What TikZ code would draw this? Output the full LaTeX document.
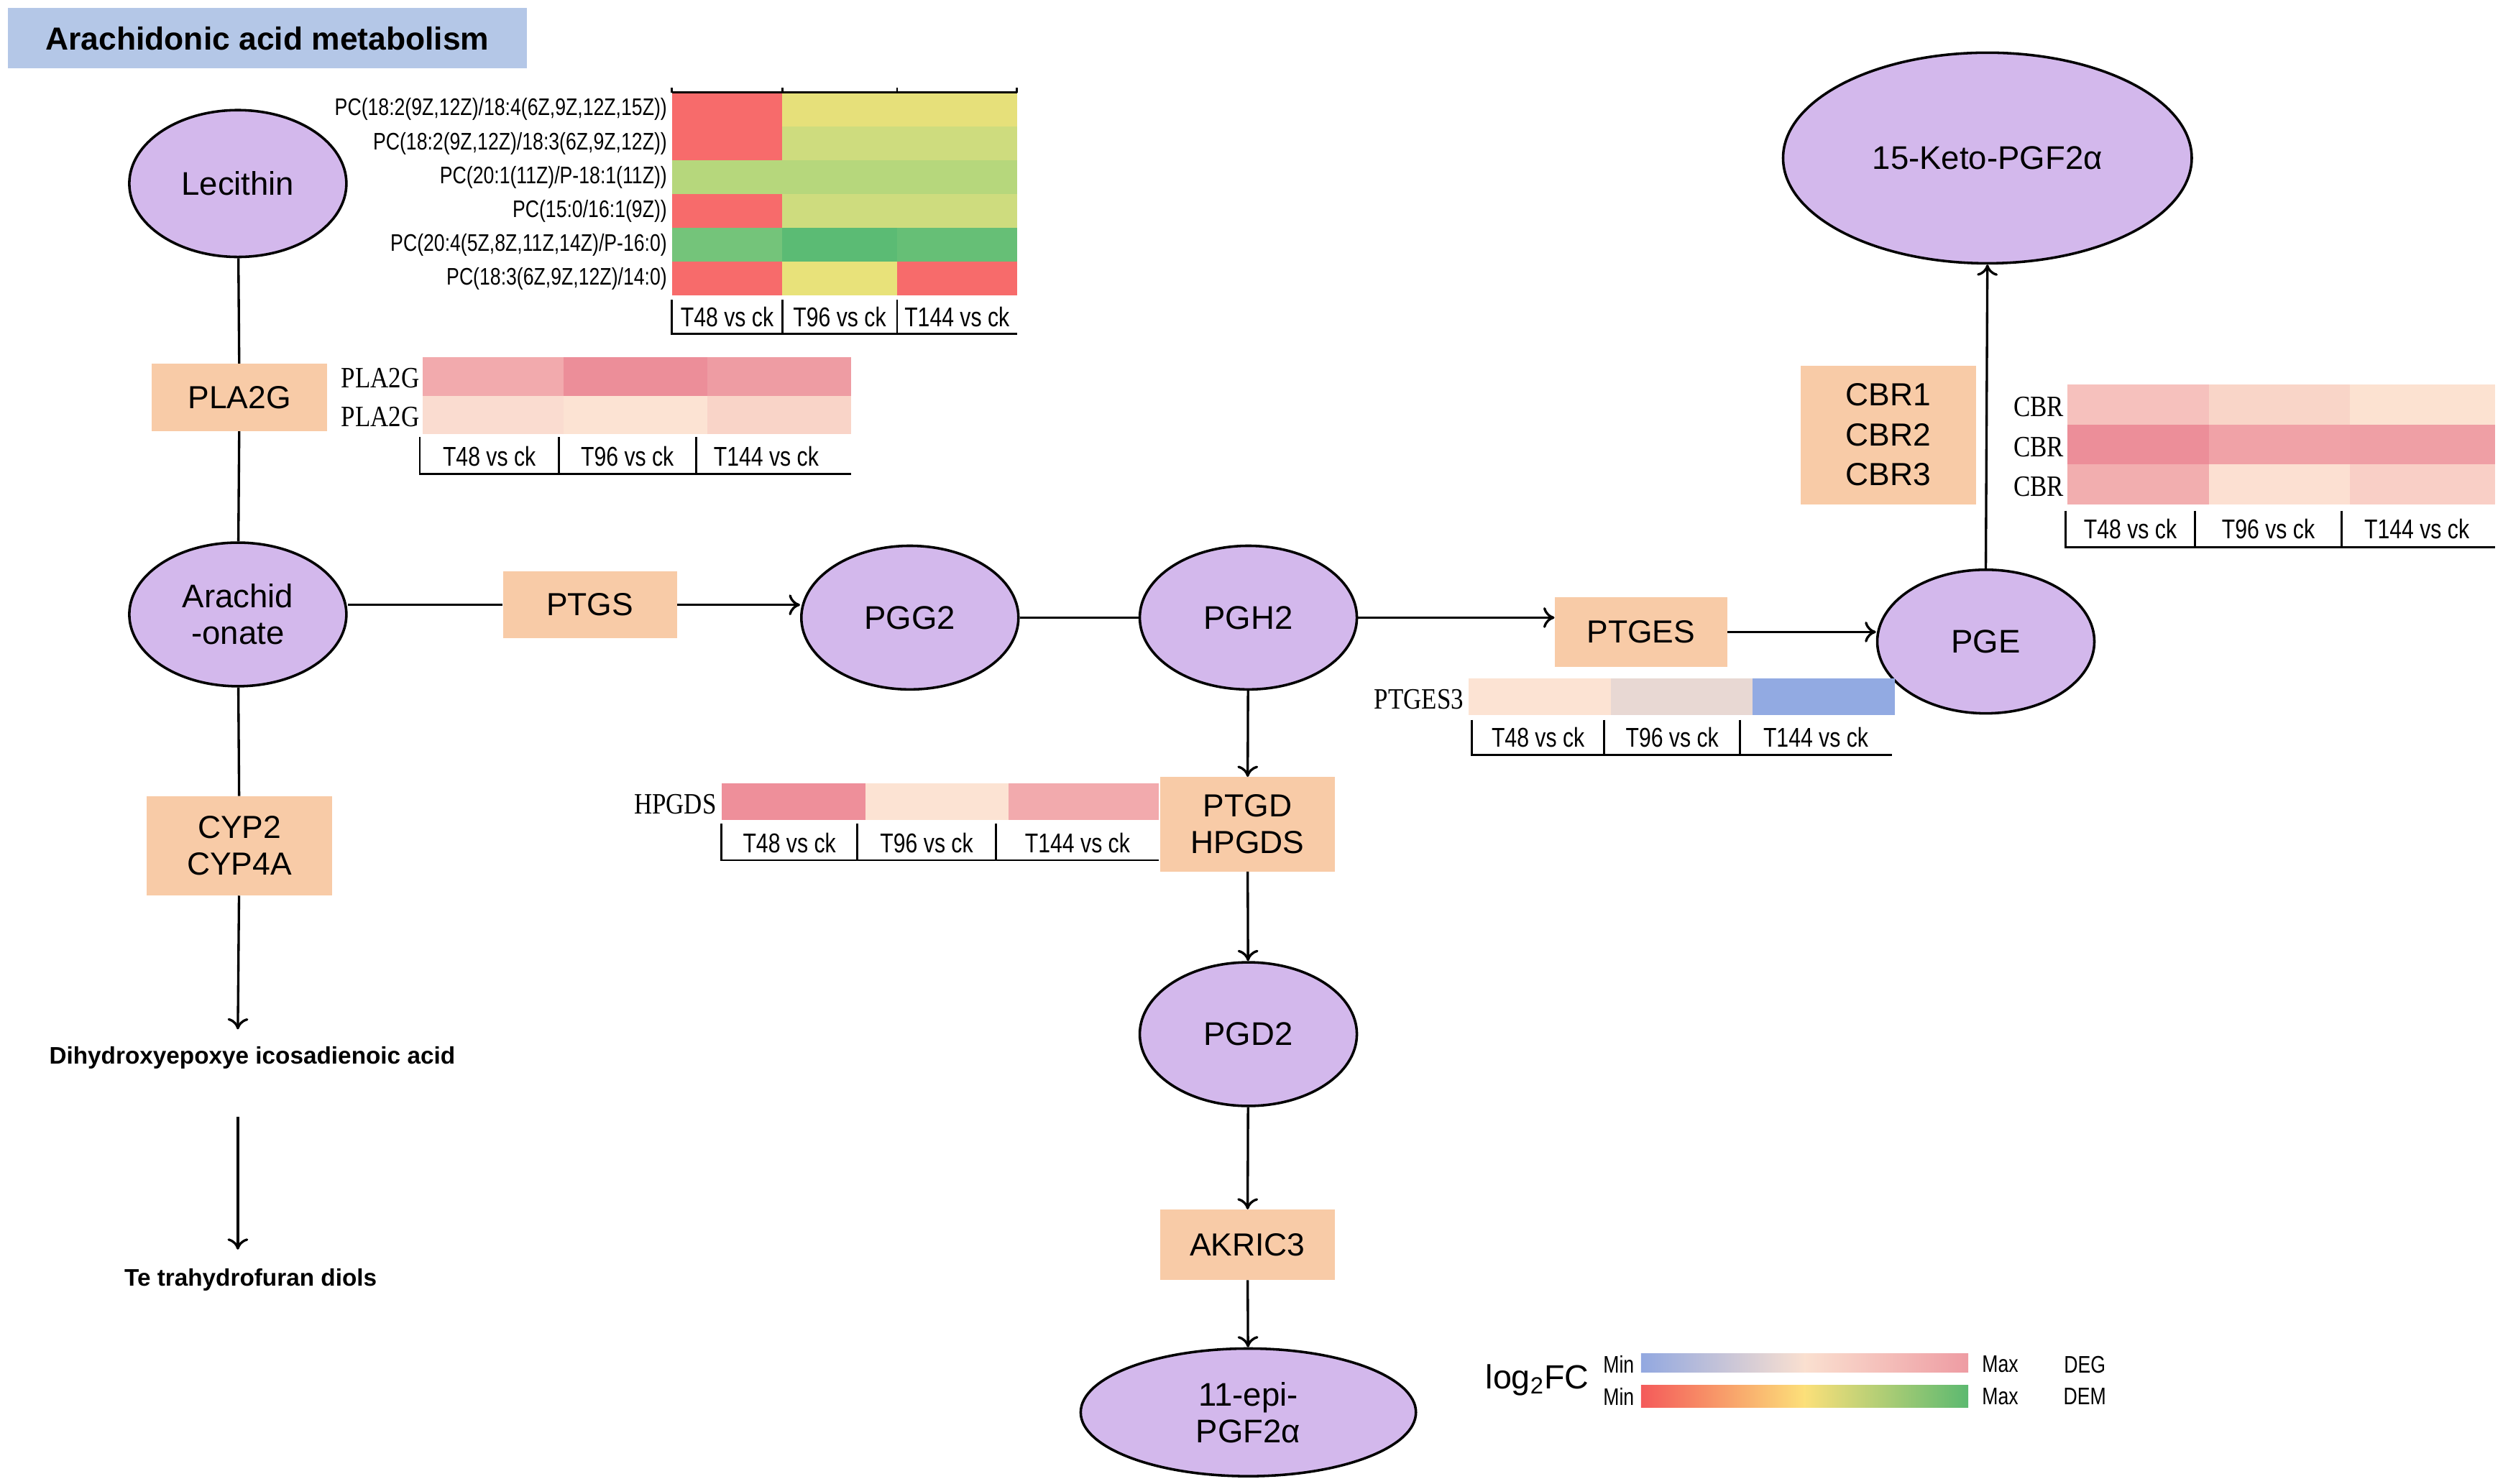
\documentclass[tikz,border=0pt]{standalone}
\usepackage{fontspec}
\setmainfont{Liberation Sans}
\newfontfamily\narrowf{Liberation Sans}[FakeStretch=0.8]
\newfontfamily\serf{Liberation Serif}[FakeStretch=0.85]
\usetikzlibrary{shapes.geometric,arrows.meta}
\definecolor{purp}{HTML}{D3B8EC}
\definecolor{orng}{HTML}{F8CBA7}
\definecolor{ttl}{HTML}{B4C7E7}
\newcommand\hcell[5]{\definecolor{tmpc}{HTML}{#1}\fill[tmpc] (#2,#3) rectangle (#4,#5);}
\tikzset{
 met/.style={ellipse,draw,fill=purp,line width=1.6pt,inner sep=0pt,font=\fontsize{20.5}{23}\selectfont,align=center},
 enz/.style={fill=orng,inner sep=0pt,font=\fontsize{20}{23}\selectfont,align=center},
 con/.style={line width=1.5pt},
 arr/.style={line width=1.5pt,-{To[length=7pt,width=13pt,line width=1.5pt]}},
 ax/.style={line width=1.3pt},
 axl/.style={font=\narrowf\fontsize{17}{17}\selectfont},
 pcl/.style={font=\narrowf\fontsize{15}{15}\selectfont,anchor=east,inner sep=1pt},
 sl/.style={font=\serf\fontsize{18.5}{18}\selectfont,anchor=east,inner sep=1pt}
}
\begin{document}
\begin{tikzpicture}[x=1pt,y=-1pt]
\useasboundingbox (0,0) rectangle (1568,929.5);
% title
\node[fill=ttl,minimum width=325pt,minimum height=38pt,font=\bfseries\fontsize{20}{22}\selectfont] (title) at (167.5,24) {Arachidonic acid metabolism};
% metabolites
\node[met,minimum width=136pt,minimum height=92pt] (lec) at (149,115) {Lecithin};
\node[met,minimum width=136pt,minimum height=90pt] (ara) at (149,385) {Arachid\\-onate};
\node[met,minimum width=136pt,minimum height=90pt] (pgg) at (570,387) {PGG2};
\node[met,minimum width=136pt,minimum height=90pt] (pgh) at (782,387) {PGH2};
\node[met,minimum width=136pt,minimum height=90pt] (pge) at (1244,402) {PGE};
\node[met,minimum width=256pt,minimum height=132pt] (keto) at (1245,99) {15-Keto-PGF2α};
\node[met,minimum width=136pt,minimum height=90pt] (pgd) at (782,648) {PGD2};
\node[met,minimum width=210pt,minimum height=80pt] (epi) at (782,885) {11-epi-\\PGF2α};
% enzymes
\node[enz,minimum width=110pt,minimum height=42pt] (pla) at (150,249) {PLA2G};
\node[enz,minimum width=109pt,minimum height=42pt] (ptgs) at (369.5,379) {PTGS};
\node[enz,minimum width=116pt,minimum height=62pt] (cyp) at (150,530) {CYP2\\CYP4A};
\node[enz,minimum width=108pt,minimum height=44pt] (ptges) at (1028,396) {PTGES};
\node[enz,minimum width=110pt,minimum height=87pt,font=\fontsize{20}{25}\selectfont] (cbr) at (1183,272.5) {CBR1\\CBR2\\CBR3};
\node[enz,minimum width=109pt,minimum height=59pt] (ptgd) at (781.5,516.5) {PTGD\\HPGDS};
\node[enz,minimum width=109pt,minimum height=44pt] (akr) at (781.5,780) {AKRIC3};
% end products
\coordinate (c1) at (149,645);
\coordinate (c2) at (149,700);
\coordinate (c3) at (149,783);
\node[font=\bfseries\fontsize{15}{17}\selectfont] (dihy) at (158,663) {Dihydroxyepoxye icosadienoic acid};
\node[font=\bfseries\fontsize{15}{17}\selectfont] (tetra) at (157,802) {Te trahydrofuran diols};
% connectors
\draw[con] (lec) -- (pla);
\draw[con] (pla) -- (ara);
\draw[con] (ara) -- (cyp);
\draw[arr] (cyp) -- (c1);
\draw[arr] (c2) -- (c3);
\draw[con] (ptgs.west) -- (ptgs.west -| ara.east);
\draw[arr] (ptgs.east) -- (ptgs.east -| pgg.west);
\draw[con] (pgg) -- (pgh);
\draw[arr] (pgh.east) -- (pgh.east -| ptges.west);
\draw[arr] (ptges.east) -- (ptges.east -| pge.west);
\draw[arr] (pge.north) -- (keto.south);
\draw[arr] (pgh) -- (ptgd);
\draw[arr] (ptgd) -- (pgd);
\draw[arr] (pgd) -- (akr);
\draw[arr] (akr) -- (epi);
% ---------- PC heatmap
\foreach \r/\a/\b/\c [count=\i from 0] in {
 {PC(18:2(9Z,12Z)/18:4(6Z,9Z,12Z,15Z))}/F76B6B/E6E07A/E6E07A,
 {PC(18:2(9Z,12Z)/18:3(6Z,9Z,12Z))}/F76B6B/CEDC7E/CEDC7E,
 {PC(20:1(11Z)/P-18:1(11Z))}/B6D77C/B6D77C/B6D77C,
 {PC(15:0/16:1(9Z))}/F76B6B/CEDC7E/CEDC7E,
 {PC(20:4(5Z,8Z,11Z,14Z)/P-16:0)}/74C47A/5BBB74/66BF76,
 {PC(18:3(6Z,9Z,12Z)/14:0)}/F76B6B/E8E27A/F76B6B}{
 \pgfmathsetmacro\yy{58+\i*21.2}
 \pgfmathsetmacro\yb{\yy+21.2}
 \hcell{\a}{421}{\yy}{490}{\yb}
 \hcell{\b}{490}{\yy}{562}{\yb}
 \hcell{\c}{562}{\yy}{637}{\yb}
 \node[pcl] (pc\i) at (419,\yy+10.6) {\r};
}
\draw[ax] (421,58) -- (637,58);
\foreach \x in {421,490,562,637} \draw[ax] (\x,58) -- (\x,55);
\draw[ax] (421,188) -- (421,209) -- (637,209);
\draw[ax] (490,188) -- (490,209); \draw[ax] (562,188) -- (562,209);
\node[axl] (pa1) at (455.5,198.5) {T48 vs ck};
\node[axl] (pa2) at (526,198.5) {T96 vs ck};
\node[axl] (pa3) at (599.5,198.5) {T144 vs ck};
% ---------- PLA2G heatmap
\foreach \a/\b/\c/\yy [count=\i] in {F2AAAD/EC8E99/EE9CA3/224, FADCD0/FCE3D3/F9D4C8/248}{
 \pgfmathsetmacro\yb{\yy+24}
 \hcell{\a}{265}{\yy}{353}{\yb}
 \hcell{\b}{353}{\yy}{443}{\yb}
 \hcell{\c}{443}{\yy}{533}{\yb}
 \node[sl] (pl\i) at (264,\yy+13) {PLA2G};
}
\draw[ax] (263,274) -- (263,297) -- (533,297);
\draw[ax] (350,274) -- (350,297); \draw[ax] (436,274) -- (436,297);
\node[axl] (la1) at (306.5,286) {T48 vs ck};
\node[axl] (la2) at (393,286) {T96 vs ck};
\node[axl] (la3) at (480,286) {T144 vs ck};
% ---------- CBR heatmap
\foreach \a/\b/\c/\yy [count=\i] in {F6C1BD/F9D5C8/FCE2D1/241, EC8E99/F0A2A7/EF9FA5/266, F2AEAF/FCE0D2/F9CFC6/291}{
 \pgfmathsetmacro\yb{\yy+25}
 \hcell{\a}{1295}{\yy}{1384}{\yb}
 \hcell{\b}{1384}{\yy}{1472}{\yb}
 \hcell{\c}{1472}{\yy}{1563}{\yb}
 \node[sl] (cb\i) at (1294,\yy+14) {CBR};
}
\draw[ax] (1294,320) -- (1294,343) -- (1563,343);
\draw[ax] (1375,320) -- (1375,343); \draw[ax] (1467,320) -- (1467,343);
\node[axl] (ca1) at (1334.5,331.5) {T48 vs ck};
\node[axl] (ca2) at (1421,331.5) {T96 vs ck};
\node[axl] (ca3) at (1514,331.5) {T144 vs ck};
% ---------- PTGES3 heatmap
\hcell{FCE3D3}{920}{425}{1009}{448}
\hcell{E8D8D3}{1009}{425}{1098}{448}
\hcell{92AAE2}{1098}{425}{1187}{448}
\node[sl] (pt3) at (918,438) {PTGES3};
\draw[ax] (922,451) -- (922,473) -- (1185,473);
\draw[ax] (1005,451) -- (1005,473); \draw[ax] (1090,451) -- (1090,473);
\node[axl] (ta1) at (963.5,462) {T48 vs ck};
\node[axl] (ta2) at (1047.5,462) {T96 vs ck};
\node[axl] (ta3) at (1137.5,462) {T144 vs ck};
% ---------- HPGDS heatmap
\hcell{EE8F9A}{452}{491}{542}{514}
\hcell{FCE3D3}{542}{491}{632}{514}
\hcell{F2AAAD}{632}{491}{726}{514}
\node[sl] (hp) at (450,504) {HPGDS};
\draw[ax] (452,516) -- (452,539) -- (726,539);
\draw[ax] (537,516) -- (537,539); \draw[ax] (624,516) -- (624,539);
\node[axl] (ha1) at (494.5,528) {T48 vs ck};
\node[axl] (ha2) at (580.5,528) {T96 vs ck};
\node[axl] (ha3) at (675,528) {T144 vs ck};
% ---------- legend
\node[font=\fontsize{21}{22}\selectfont] (lg) at (963,865) {log\textsubscript{2}FC};
\shade[left color={rgb,255:red,146;green,168;blue,224}, right color={rgb,255:red,250;green,224;blue,208}] (1028,848) rectangle (1131,860);
\shade[left color={rgb,255:red,250;green,224;blue,208}, right color={rgb,255:red,238;green,156;blue,163}] (1130,848) rectangle (1233,860);
\shade[left color={rgb,255:red,244;green,90;blue,90}, right color={rgb,255:red,252;green,224;blue,122}] (1028,868) rectangle (1131,882);
\shade[left color={rgb,255:red,252;green,224;blue,122}, right color={rgb,255:red,92;green,185;blue,112}] (1130,868) rectangle (1233,882);
\foreach \t/\x/\y/\n in {Min/1014/855/m1, Min/1014/875/m2, Max/1253/855/m3, Max/1253/875/m4, DEG/1306/855/d1, DEM/1306/875/d2}
 \node[font=\narrowf\fontsize{15}{15}\selectfont] (\n) at (\x,\y) {\t};
\end{tikzpicture}
\end{document}
